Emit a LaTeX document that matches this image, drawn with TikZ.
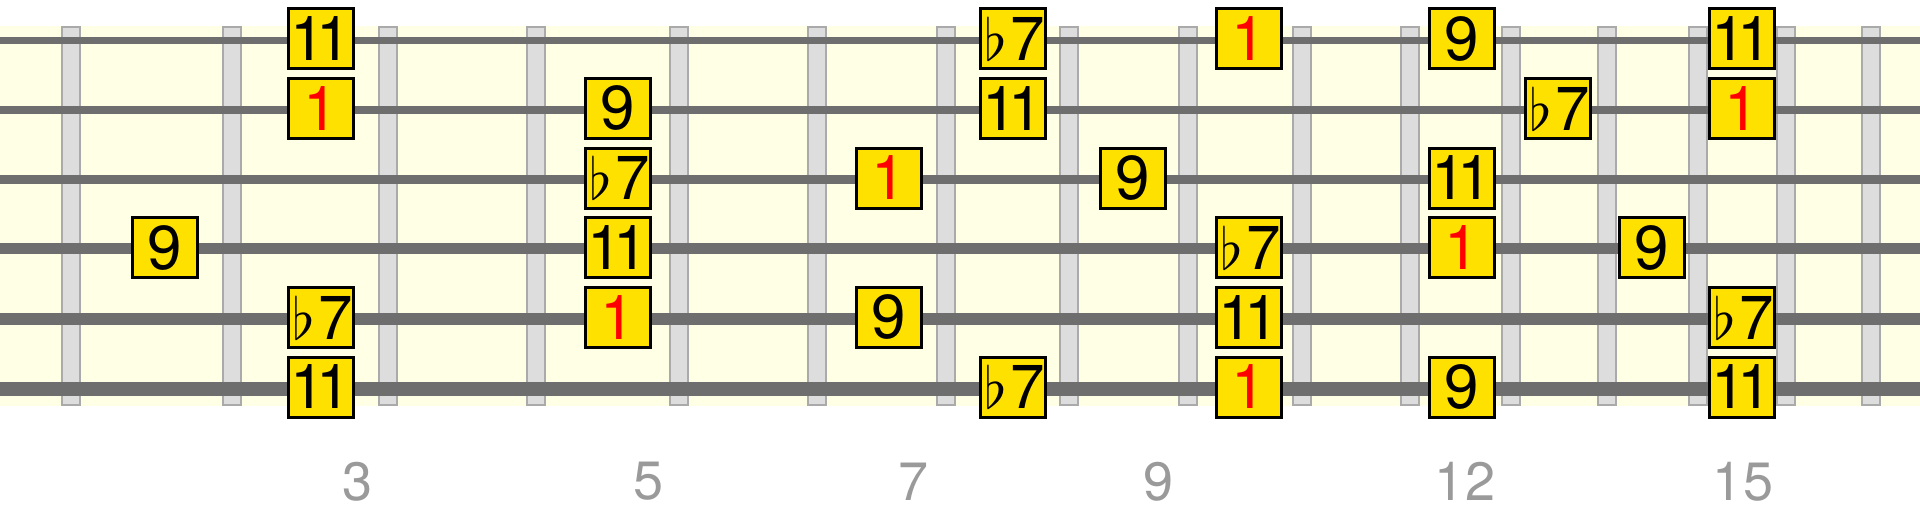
\documentclass[tikz,border=0pt]{standalone}
\usepackage{tikz}
\usepackage{xcolor}
\usepackage{graphicx}
\usepackage{fontspec}
\setmainfont{TeX Gyre Heros}
\usetikzlibrary{shapes.geometric}
\definecolor{neckyellow}{HTML}{FFFFE5}
\definecolor{fretfill}{HTML}{DDDDDD}
\definecolor{fretedge}{HTML}{AAAAAA}
\definecolor{stringgray}{HTML}{6E6E6E}
\definecolor{noteyellow}{HTML}{FFE100}
\definecolor{rootred}{HTML}{FF0000}
\definecolor{numgray}{HTML}{9A9A9A}
\tikzstyle{fretbar} = [draw=fretedge, fill=fretfill, line width=2pt]
\tikzstyle{guitarstring} = [draw=stringgray]
\tikzstyle{note} = [rectangle, draw=black, line width=3pt, fill=noteyellow, minimum width=64.5pt, minimum height=60pt, inner sep=0pt, text centered, font=\fontsize{62}{62}\selectfont]
\tikzstyle{root} = [note, text=rootred]
\tikzstyle{fretnum} = [text=numgray, inner sep=0pt, font=\fontsize{54}{54}\selectfont]
\newcommand{\fl}{\makebox[29pt][c]{\scalebox{5.8}{\normalsize$\flat$}}}
\newcommand{\eleven}{\mbox{1}\kern-8.5pt\mbox{1}}

\begin{document}
\begin{tikzpicture}[x=1pt, y=-1pt]
\useasboundingbox (0,0) rectangle (1920,511);
% neck
\fill[neckyellow] (0,26) rectangle (1920,406);
% frets
\draw[fretbar] (62,27) rectangle (80,405);
\draw[fretbar] (223,27) rectangle (241,405);
\draw[fretbar] (379,27) rectangle (397,405);
\draw[fretbar] (527,27) rectangle (545,405);
\draw[fretbar] (670,27) rectangle (688,405);
\draw[fretbar] (808,27) rectangle (826,405);
\draw[fretbar] (937,27) rectangle (955,405);
\draw[fretbar] (1060,27) rectangle (1078,405);
\draw[fretbar] (1179,27) rectangle (1197,405);
\draw[fretbar] (1293,27) rectangle (1311,405);
\draw[fretbar] (1401,27) rectangle (1419,405);
\draw[fretbar] (1502,27) rectangle (1520,405);
\draw[fretbar] (1598,27) rectangle (1616,405);
\draw[fretbar] (1689,27) rectangle (1707,405);
\draw[fretbar] (1777,27) rectangle (1795,405);
\draw[fretbar] (1862,27) rectangle (1880,405);
% strings
\draw[guitarstring, line width=6.7pt] (0,40.7) -- (1920,40.7);
\draw[guitarstring, line width=8pt] (0,110.2) -- (1920,110.2);
\draw[guitarstring, line width=9pt] (0,179.3) -- (1920,179.3);
\draw[guitarstring, line width=11pt] (0,248.9) -- (1920,248.9);
\draw[guitarstring, line width=12.7pt] (0,319) -- (1920,319);
\draw[guitarstring, line width=14pt] (0,389) -- (1920,389);
% string 1
\node (s1a) [note] at (321,38.7) {\eleven};
\node (s1b) [note] at (1013,38.7) {\fl7};
\node (s1c) [root] at (1249,38.7) {1};
\node (s1d) [note] at (1462,38.7) {9};
\node (s1e) [note] at (1742,38.7) {\eleven};
% string 2
\node (s2a) [root] at (321,108.4) {1};
\node (s2b) [note] at (618,108.4) {9};
\node (s2c) [note] at (1013,108.4) {\eleven};
\node (s2d) [note] at (1558,108.4) {\fl7};
\node (s2e) [root] at (1742,108.4) {1};
% string 3
\node (s3a) [note] at (618,178) {\fl7};
\node (s3b) [root] at (889,178) {1};
\node (s3c) [note] at (1133,178) {9};
\node (s3d) [note] at (1462,178) {\eleven};
% string 4
\node (s4a) [note] at (165,247.7) {9};
\node (s4b) [note] at (618,247.7) {\eleven};
\node (s4c) [note] at (1249,247.7) {\fl7};
\node (s4d) [root] at (1462,247.7) {1};
\node (s4e) [note] at (1652,247.7) {9};
% string 5
\node (s5a) [note] at (321,317.3) {\fl7};
\node (s5b) [root] at (618,317.3) {1};
\node (s5c) [note] at (889,317.3) {9};
\node (s5d) [note] at (1249,317.3) {\eleven};
\node (s5e) [note] at (1742,317.3) {\fl7};
% string 6
\node (s6a) [note] at (321,387) {\eleven};
\node (s6b) [note] at (1013,387) {\fl7};
\node (s6c) [root] at (1249,387) {1};
\node (s6d) [note] at (1462,387) {9};
\node (s6e) [note] at (1742,387) {\eleven};
% fret numbers
\node (f3) [fretnum] at (358,481.5) {3};
\node (f5) [fretnum] at (649,481.5) {5};
\node (f7) [fretnum] at (914,481.5) {7};
\node (f9) [fretnum] at (1158,481.5) {9};
\node (f12) [fretnum] at (1465,481.5) {12};
\node (f15) [fretnum] at (1743,481.5) {15};
\end{tikzpicture}
\end{document}
